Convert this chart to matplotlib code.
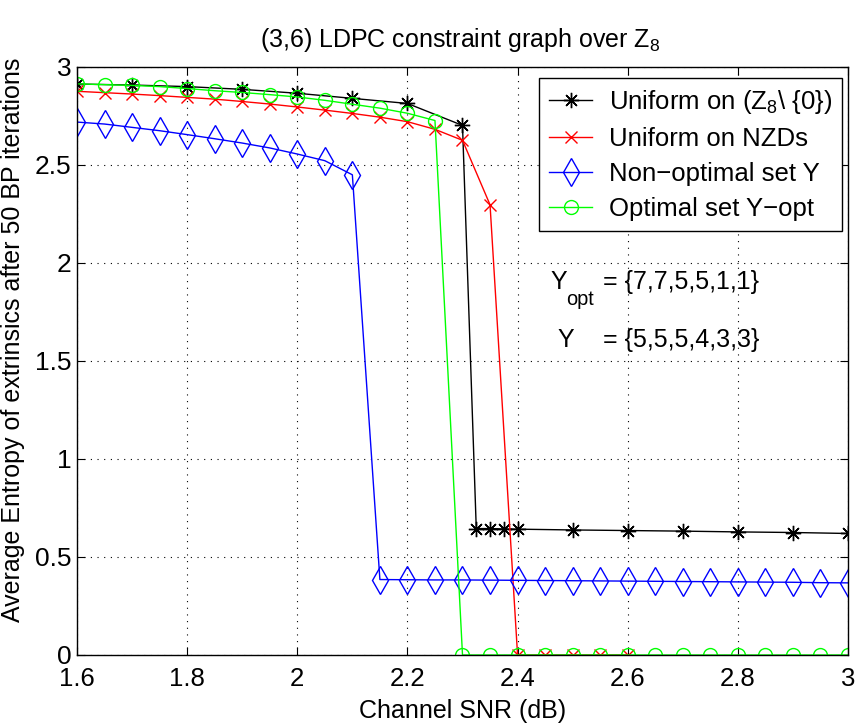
import matplotlib
matplotlib.use("Agg")
import matplotlib.pyplot as plt
from matplotlib.ticker import FixedLocator, FixedFormatter

# ---------------- data ----------------
snr_black = [1.6, 1.7, 1.8, 1.9, 2.0, 2.1, 2.2, 2.3, 2.325, 2.35, 2.375, 2.4,
             2.5, 2.6, 2.7, 2.8, 2.9, 3.0]
H_black = [2.913, 2.908, 2.900, 2.886, 2.866, 2.840, 2.814, 2.702, 0.645, 0.645,
           0.643, 0.642, 0.638, 0.635, 0.632, 0.628, 0.625, 0.620]

snr_red = [1.6, 1.65, 1.7, 1.75, 1.8, 1.85, 1.9, 1.95, 2.0, 2.05, 2.1, 2.15,
           2.2, 2.25, 2.3, 2.35, 2.4, 2.45, 2.5, 2.55, 2.6]
H_red = [2.876, 2.869, 2.862, 2.854, 2.845, 2.836, 2.824, 2.811, 2.796, 2.780,
         2.763, 2.744, 2.721, 2.682, 2.626, 2.297, 0.0, 0.0, 0.0, 0.0, 0.0]

snr_blue = [1.6, 1.65, 1.7, 1.75, 1.8, 1.85, 1.9, 1.95, 2.0, 2.05, 2.1,
            2.15, 2.2, 2.25, 2.3, 2.35, 2.4, 2.45, 2.5, 2.55, 2.6, 2.65, 2.7,
            2.75, 2.8, 2.85, 2.9, 2.95, 3.0]
H_blue = [2.719, 2.709, 2.692, 2.675, 2.655, 2.634, 2.612, 2.587, 2.556, 2.522,
          2.450,
          0.385, 0.384, 0.383, 0.383, 0.382, 0.381, 0.380, 0.379, 0.378, 0.377,
          0.376, 0.375, 0.374, 0.373, 0.372, 0.371, 0.369, 0.368]

snr_green = [1.6, 1.65, 1.7, 1.75, 1.8, 1.85, 1.9, 1.95, 2.0, 2.05, 2.1, 2.15,
             2.2, 2.25, 2.3, 2.35, 2.4, 2.45, 2.5, 2.55, 2.6, 2.65, 2.7, 2.75,
             2.8, 2.85, 2.9, 2.95, 3.0]
H_green = [2.914, 2.910, 2.906, 2.900, 2.890, 2.879, 2.870, 2.859, 2.847, 2.830,
           2.810, 2.790, 2.764, 2.727,
           0.0, 0.0, 0.0, 0.0, 0.0, 0.0, 0.0, 0.0, 0.0, 0.0, 0.0, 0.0, 0.0, 0.0, 0.0]

series_labels = [r"Uniform on (Z$_\mathregular{8}$\ {0})", "Uniform on NZDs",
                 "Non\u2212optimal set Y", "Optimal set Y\u2212opt"]

xticks = [1.6, 1.8, 2.0, 2.2, 2.4, 2.6, 2.8, 3.0]
xticklabels = ["1.6", "1.8", "2", "2.2", "2.4", "2.6", "2.8", "3"]
yticks = [0, 0.5, 1, 1.5, 2, 2.5, 3]
yticklabels = ["0", "0.5", "1", "1.5", "2", "2.5", "3"]

title_text = r"(3,6) LDPC constraint graph over Z$_\mathregular{8}$"
xlabel_text = "Channel SNR (dB)"
ylabel_text = "Average Entropy of extrinsics after 50 BP iterations"

# ---------------- style ----------------
plt.rcParams['font.family'] = ['Liberation Sans', 'DejaVu Sans']
plt.rcParams['mathtext.fontset'] = 'custom'
plt.rcParams['mathtext.rm'] = 'Liberation Sans'
plt.rcParams['mathtext.it'] = 'Liberation Sans'

W, H = 857, 723
fig = plt.figure(figsize=(W / 100, H / 100), dpi=100)
L, R, T, B = 77, 848, 67, 655
ax = fig.add_axes([L / W, 1 - B / H, (R - L) / W, (B - T) / H])

lw = 1.0
ax.plot(snr_black, H_black, color='k', lw=lw, marker=(8, 2, 0), ms=11, mew=1.0,
        label=series_labels[0])
ax.plot(snr_red, H_red, color=(1, 0, 0), lw=lw, marker='x', ms=8, mew=1.0,
        label=series_labels[1])
ax.plot(snr_blue, H_blue, color=(0, 0, 1), lw=lw, marker='d', ms=14, mew=1.0,
        mfc='none', label=series_labels[2])
ax.plot(snr_green, H_green, color=(0, 1, 0), lw=lw, marker='o', ms=10, mew=1.0,
        mfc='none', label=series_labels[3])

ax.set_xlim(1.6, 3.0)
ax.set_ylim(0, 3)
ax.xaxis.set_major_locator(FixedLocator(xticks))
ax.xaxis.set_major_formatter(FixedFormatter(xticklabels))
ax.yaxis.set_major_locator(FixedLocator(yticks))
ax.yaxis.set_major_formatter(FixedFormatter(yticklabels))

ax.grid(True, color='k', linestyle=(0, (1, 5)), lw=0.8)
ax.tick_params(direction='in', length=6, width=0.8, top=True, right=True)
ax.tick_params(axis='x', pad=9, labelsize=18.5)
ax.tick_params(axis='y', pad=4, labelsize=19)
for s in ax.spines.values():
    s.set_linewidth(1.0)

ax.set_xlabel(xlabel_text, fontsize=18)
ax.xaxis.set_label_coords(0.5, (B - 699) / (B - T))
ax.set_ylabel(ylabel_text, fontsize=18)
ax.yaxis.set_label_coords((25 - L) / (R - L), (B - 340) / (B - T))

fig.text(460 / W, 1 - 47 / H, title_text, fontsize=18,
         ha='center', va='baseline')

leg = ax.legend(loc='upper right', bbox_to_anchor=((842 - L) / (R - L), (B - 78) / (B - T)),
                borderaxespad=0, fancybox=False, framealpha=1, edgecolor='k',
                fontsize=18.5, numpoints=1, handlelength=1.65, handletextpad=0.65,
                labelspacing=0.42, borderpad=0.4)
leg.get_frame().set_linewidth(1.0)

fs_ann = 18
ax.text(2.460, 1.905, "Y", fontsize=fs_ann, ha='left', va='center')
ax.text(2.489, 1.813, "opt", fontsize=fs_ann * 0.8, ha='left', va='center')
ax.text(2.555, 1.905, "= {7,7,5,5,1,1}", fontsize=fs_ann, ha='left', va='center')
ax.text(2.473, 1.609, "Y", fontsize=fs_ann, ha='left', va='center')
ax.text(2.555, 1.609, "= {5,5,5,4,3,3}", fontsize=fs_ann, ha='left', va='center')

fig.savefig("out.png", dpi=100)
